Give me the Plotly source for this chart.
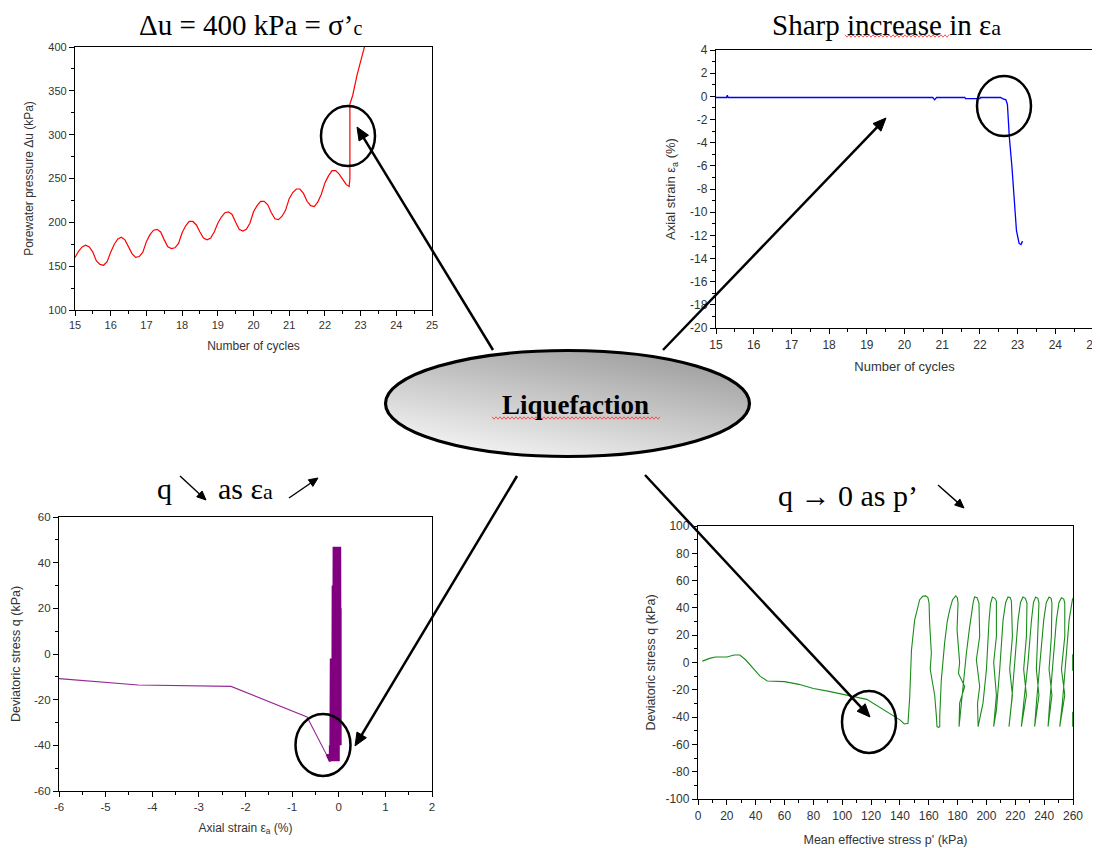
import base64
import math
import plotly.graph_objects as go

# the page body has an 8px margin; figure is sized so that it exactly fills the 1100x848 window
OFF = 8
W, H = 1100 - OFF, 848 - OFF

# ---------------- data ----------------
# Top-left: pore water pressure vs number of cycles
pwp_cycles = [15.0, 15.1, 15.2, 15.3, 15.4, 15.5, 15.6, 15.7, 15.8, 15.9,
              16.0, 16.1, 16.2, 16.3, 16.4, 16.5, 16.6, 16.7, 16.8, 16.9,
              17.0, 17.1, 17.2, 17.3, 17.4, 17.5, 17.6, 17.7, 17.8, 17.9,
              18.0, 18.1, 18.2, 18.3, 18.4, 18.5, 18.6, 18.7, 18.8, 18.9,
              19.0, 19.1, 19.2, 19.3, 19.4, 19.5, 19.6, 19.7, 19.8, 19.9,
              20.0, 20.1, 20.2, 20.3, 20.4, 20.5, 20.6, 20.7, 20.8, 20.9,
              21.0, 21.1, 21.2, 21.3, 21.4, 21.5, 21.6, 21.7, 21.8, 21.9,
              22.0, 22.1, 22.2, 22.3, 22.4, 22.5, 22.6, 22.68, 22.7, 22.7,
              22.78, 22.9, 23.0, 23.12]
pwp_kpa = [160, 167, 172, 174, 172, 166, 156, 152, 151, 155,
           166, 175, 181, 183, 180, 172, 164, 160, 161, 166,
           178, 186, 191, 192, 189, 180, 172, 170, 171, 176,
           188, 196, 201, 201, 197, 189, 182, 180, 182, 189,
           199, 206, 211, 212, 209, 200, 192, 190, 192, 199,
           212, 219, 224, 224, 220, 211, 204, 203, 207, 214,
           227, 234, 238, 238, 233, 224, 219, 218, 223, 232,
           245, 253, 259, 259, 255, 249, 243, 241, 250, 335,
           345, 368, 385, 402]

# Top-right: axial strain vs number of cycles
eps_cycles = [15.0, 15.28, 15.3, 15.32, 20.75, 20.8, 20.85, 21.6, 21.62, 22.0,
              22.02, 22.55, 22.6, 22.69, 22.73, 22.78, 22.85, 22.91, 22.97, 23.04,
              23.09, 23.13]
eps_pct = [-0.1, -0.1, 0.1, -0.1, -0.1, -0.3, -0.1, -0.1, -0.2, -0.2,
           -0.1, -0.1, -0.2, -0.3, -0.7, -3.5, -6.1, -9.0, -11.6, -12.7,
           -12.8, -12.5]

# Bottom-left: deviatoric stress vs axial strain
strain_path = [-6.0, -5.0, -4.3, -2.31, -0.68, -0.254, -0.233]
q_path = [-10.8, -12.6, -13.6, -14.2, -27.6, -44.4, -44.0]
strain_band = [-0.25, -0.18, -0.18, -0.17, -0.16, -0.15, -0.14, -0.13, -0.12, -0.11,
               -0.10, -0.09, -0.08, -0.07, -0.06, -0.05, -0.04, -0.03, -0.02, -0.01,
               0.00, 0.01, 0.02, 0.03, 0.03]
q_band = [-44, -47, -40, -47, -2, -47, -2, -47, 30, -47,
          47, -47, 47, -47, 47, -47, 47, -47, 47, -47,
          47, -40, 47, -40, 20]

# Bottom-right: deviatoric stress vs mean effective stress
p_kpa = [3, 8, 12, 20, 25, 29, 33, 38, 43, 48, 60, 70, 80, 90, 100, 108, 117, 125, 133, 140, 143, 145.6,
         146.8, 147.2, 148.0, 150.2, 152.0, 153.7, 155.8, 157.9, 159.4, 160.2, 160.6, 161.8, 161.0, 164.1, 165.3, 165.7, 166.8, 167.6,
         167.6, 168.7, 171.0, 172.8, 174.5, 176.5, 178.7, 179.8, 180.3, 179.6, 181.4, 180.6, 184.9, 181.4, 181.0,
         182.6, 184.0, 186.1, 188.2, 189.6, 190.8, 191.8, 193.5, 194.8, 195.3, 193.0, 195.3, 193.8, 194.2,
         197.6, 200.0, 201.8, 202.8, 204.1, 205.8, 206.9, 206.9, 205.0, 206.9, 205.0,
         206.9, 209.2, 211.5, 213.3, 215.0, 216.5, 217.3, 218.0, 216.1, 218.0, 215.6,
         217.3, 219.6, 221.9, 223.6, 225.3, 227.0, 228.1, 227.7, 225.8, 227.7, 224.2,
         225.8, 228.8, 231.2, 232.6, 234.1, 235.6, 236.4, 235.7, 234.6, 236.4, 233.4,
         234.6, 236.9, 239.7, 241.5, 243.4, 244.8, 245.4, 245.0, 243.4, 245.4, 242.7,
         243.8, 246.1, 248.5, 250.3, 252.0, 253.6, 254.3, 254.3, 252.0, 254.3, 250.8,
         252.6, 255.0, 257.3, 259.6, 260.5,
         None, 259.8, 259.6, 259.8, None, 259.8, 259.8]
q_kpa = [1, 3, 4, 4, 5.5, 5.5, 2, -4, -10, -13.5, -14, -16, -19, -21, -23, -25, -27, -32, -37, -42, -45, -44.5,
         -25, -5.4, 9, 31, 40, 46, 48.5, 48.8, 47.5, 43.6, 29, 7, -5, -24, -39.6, -47, -47.5, -47,
         -39.6, -12.7, 14.4, 30, 38.6, 46, 48.8, 47.5, 43.6, 24, 0, -8, -17.6, -29.8, -47,
         -29.8, -10, 7, 25, 36, 44, 48, 47.5, 43.6, 19, 2, -17.6, -30, -47,
         -29.8, -5, 31, 43, 48, 47, 45, 19, 0, -24, -47,
         -35, -5, 31, 44, 48, 47.5, 45, 19, -5, -24, -47,
         -30, 0, 31, 44, 48, 47, 43.6, 19, -5, -24, -47,
         -30, 0, 31, 44, 48, 47, 43.6, 19, -5, -24, -47,
         -30, 0, 31, 44, 48, 47, 43.6, 19, -5, -24, -47,
         -30, 0, 31, 44, 47.5, 46.5, 43.6, 19, -5, -24, -47,
         -30, 0, 31, 46, 48,
         None, -47, -40, -36, None, 6, -6]

# tick labels (hyphen minus as in the original)
tl_x_cycles = [15, 16, 17, 18, 19, 20, 21, 22, 23, 24, 25]
tl_y_pwp = [100, 150, 200, 250, 300, 350, 400]
tl_y_eps = [-20, -18, -16, -14, -12, -10, -8, -6, -4, -2, 0, 2, 4]
tl_x_strain = [-6, -5, -4, -3, -2, -1, 0, 1, 2]
tl_y_q60 = [-60, -40, -20, 0, 20, 40, 60]
tl_x_p = [0, 20, 40, 60, 80, 100, 120, 140, 160, 180, 200, 220, 240, 260]
tl_y_q100 = [-100, -80, -60, -40, -20, 0, 20, 40, 60, 80, 100]

# ---------------- helpers (window pixels -> paper) ----------------
def px(x):
    return (x - OFF) / W


def py(y):
    return 1 - (y - OFF) / H


FONT_AX = "Liberation Sans"
FONT_SERIF = "Liberation Serif"


def axis_style(rng, vals, minor_dtick, title, standoff, tsize=11, lsize=12):
    return dict(
        range=rng, tickvals=vals, ticktext=[str(v) for v in vals],
        showline=True, linecolor="black", linewidth=1.3, automargin=False,
        mirror=True, ticks="outside", ticklen=5, tickwidth=1.2, tickcolor="black",
        showgrid=False, zeroline=False,
        tickfont=dict(family=FONT_AX, size=tsize, color="#333333"),
        title=dict(text=title, standoff=standoff,
                   font=dict(family=FONT_AX, size=lsize, color="#333333")),
        minor=dict(ticks="outside", ticklen=3, tickwidth=1, tickcolor="black", dtick=minor_dtick,
                   tick0=rng[0]),
    )


fig = go.Figure()

fig.add_trace(go.Scatter(x=pwp_cycles, y=pwp_kpa, mode="lines", line=dict(color="#ff0000", width=1.2),
                         xaxis="x", yaxis="y", showlegend=False))
fig.add_trace(go.Scatter(x=eps_cycles, y=eps_pct, mode="lines", line=dict(color="#0000ff", width=1.3),
                         xaxis="x2", yaxis="y2", showlegend=False))
fig.add_trace(go.Scatter(x=strain_path, y=q_path, mode="lines", line=dict(color="#962896", width=1.1),
                         xaxis="x3", yaxis="y3", showlegend=False))
fig.add_trace(go.Scatter(x=strain_band, y=q_band, mode="lines", line=dict(color="#800080", width=3),
                         xaxis="x3", yaxis="y3", showlegend=False))
fig.add_trace(go.Scatter(x=p_kpa, y=q_kpa, mode="lines", line=dict(color="#1a8c1a", width=1.1),
                         xaxis="x4", yaxis="y4", showlegend=False, connectgaps=False))

# plot area boxes (window pixels)
TL = (75, 432, 47, 310)
TR = (716, 1093, 50, 328)
BL = (59, 432, 517, 791)
BR = (698, 1073, 526, 799)


def dom(box):
    x0, x1, y0, y1 = box
    return [px(x0), px(x1)], [py(y1), py(y0)]


d = dom(TL)
xa1 = axis_style([15, 25], tl_x_cycles, 0.5, "Number of cycles", 11, 11, 12); xa1.update(domain=d[0], anchor="y")
ya1 = axis_style([100, 400], tl_y_pwp, 25, "Porewater pressure \u0394u (kPa)", 12, 11, 12); ya1.update(domain=d[1], anchor="x")
d = dom(TR)
xa2 = axis_style([15, 25], tl_x_cycles, 0.5, "Number of cycles", 11, 12, 13); xa2.update(domain=d[0], anchor="y2")
ya2 = axis_style([-20, 4], tl_y_eps, 1, "Axial strain \u03b5<sub>a</sub> (%)", 11, 12, 13); ya2.update(domain=d[1], anchor="x2")
d = dom(BL)
xa3 = axis_style([-6, 2], tl_x_strain, 0.5, "Axial strain \u03b5<sub>a</sub> (%)", 11, 11.5, 12); xa3.update(domain=d[0], anchor="y3")
ya3 = axis_style([-60, 60], tl_y_q60, 10, "Deviatoric stress q (kPa)", 10, 11.5, 12.5); ya3.update(domain=d[1], anchor="x3")
d = dom(BR)
xa4 = axis_style([0, 260], tl_x_p, 10, "Mean effective stress p' (kPa)", 13, 12, 12.5); xa4.update(domain=d[0], anchor="y4")
ya4 = axis_style([-100, 100], tl_y_q100, 10, "Deviatoric stress q (kPa)", 7, 12, 12.5); ya4.update(domain=d[1], anchor="x4")

fig.update_layout(
    width=W, height=H, margin=dict(l=0, r=0, t=0, b=0, autoexpand=False),
    paper_bgcolor="white", plot_bgcolor="rgba(0,0,0,0)",
    xaxis=xa1, yaxis=ya1, xaxis2=xa2, yaxis2=ya2,
    xaxis3=xa3, yaxis3=ya3, xaxis4=xa4, yaxis4=ya4,
)

# ---------------- central ellipse (gradient) ----------------
EW, EH = 370, 112
svg = (f'<svg xmlns="http://www.w3.org/2000/svg" width="{EW}" height="{EH}" viewBox="0 0 {EW} {EH}">'
       '<defs><linearGradient id="g" x1="0.2" y1="1" x2="0.8" y2="0">'
       '<stop offset="0" stop-color="#f6f6f6"/><stop offset="1" stop-color="#9c9c9c"/>'
       '</linearGradient></defs>'
       f'<ellipse cx="{EW/2}" cy="{EH/2}" rx="182" ry="53" fill="url(#g)" stroke="black" stroke-width="3.2"/>'
       '</svg>')
src = "data:image/svg+xml;base64," + base64.b64encode(svg.encode()).decode()
ecx, ecy = 567.5, 403.5
fig.add_layout_image(dict(source=src, xref="paper", yref="paper",
                          x=px(ecx - EW / 2), y=py(ecy - EH / 2), sizex=EW / W, sizey=EH / H,
                          xanchor="left", yanchor="top", sizing="stretch", layer="above"))

annos = []
shapes = []


def text(t, x, y, size, bold=False):
    annos.append(dict(text=(f"<b>{t}</b>" if bold else t), x=px(x), y=py(y), xref="paper", yref="paper",
                      showarrow=False, xanchor="center", yanchor="middle", borderpad=0,
                      font=dict(family=FONT_SERIF, size=size, color="black")))


def arrow(tail, head, width=2.5, hl=13, hw=5.5):
    dx, dy = head[0] - tail[0], head[1] - tail[1]
    L = math.hypot(dx, dy)
    ux, uy = dx / L, dy / L
    nx, ny = -uy, ux
    bx, by = head[0] - ux * hl, head[1] - uy * hl
    shapes.append(dict(type="line", xref="paper", yref="paper",
                       x0=px(tail[0]), y0=py(tail[1]), x1=px(bx + ux * 2), y1=py(by + uy * 2),
                       line=dict(color="black", width=width)))
    p1 = (bx + nx * hw, by + ny * hw)
    p2 = (bx - nx * hw, by - ny * hw)
    path = (f"M {px(head[0]):.5f},{py(head[1]):.5f} L {px(p1[0]):.5f},{py(p1[1]):.5f} "
            f"L {px(p2[0]):.5f},{py(p2[1]):.5f} Z")
    shapes.append(dict(type="path", xref="paper", yref="paper", path=path,
                       fillcolor="black", line=dict(color="black", width=1)))


SA = "<span style='font-size:22px'>a</span>"
text("\u0394u = 400 kPa = \u03c3\u2019<span style='font-size:20px'>c</span>", 250, 25, 29)
text("Sharp increase in \u03b5" + SA, 886, 25, 29)
text("q", 164, 488, 30)
text("as \u03b5" + SA, 245, 488, 30)
text("q \u2192 0 as p\u2019", 848, 495, 30)
text("Liquefaction", 575, 405, 27, bold=True)

arrow((493, 350), (357, 127))
arrow((663, 350), (886, 118))
arrow((517, 476), (355, 746))
arrow((645, 475), (870, 717))
arrow((180, 476), (206, 500), width=1.4, hl=9, hw=4)
arrow((289, 498), (318, 478), width=1.4, hl=9, hw=4)
arrow((938, 485), (964, 508), width=1.4, hl=9, hw=4)

# ---------------- circles ----------------
for cx, cy, rx, ry in [(348, 136, 27, 30), (1004, 106, 27, 30), (323, 745, 27.5, 31), (869, 722, 27, 31)]:
    shapes.append(dict(type="circle", xref="paper", yref="paper",
                       x0=px(cx - rx), x1=px(cx + rx), y0=py(cy + ry), y1=py(cy - ry),
                       line=dict(color="black", width=2.5)))


def wavy(x0, x1, y):
    pts = []
    x = x0
    up = True
    while x <= x1:
        pts.append(f"{px(x):.5f},{py(y + (-1.2 if up else 1.2)):.5f}")
        x += 2
        up = not up
    return "M " + " L ".join(pts)


shapes.append(dict(type="path", xref="paper", yref="paper", path=wavy(492, 660, 418),
                   line=dict(color="#ff4040", width=0.9)))
shapes.append(dict(type="path", xref="paper", yref="paper", path=wavy(845, 950, 36),
                   line=dict(color="#ff4040", width=0.9)))

fig.update_layout(annotations=annos, shapes=shapes)

fig.write_html("out.html")
